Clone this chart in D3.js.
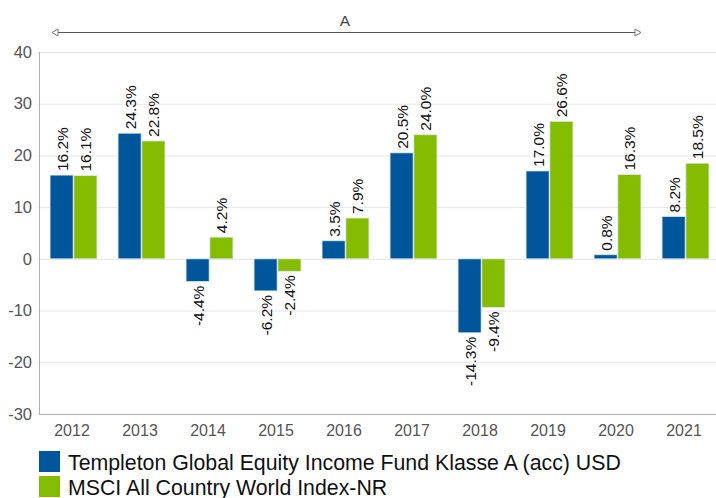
<!DOCTYPE html>
<html><head><meta charset="utf-8">
<script src="https://cdn.jsdelivr.net/npm/d3@7"></script>
<style>body{margin:0;background:#fff;} svg{display:block;font-family:Arial,"Liberation Sans",sans-serif;}</style>
</head><body><svg id="c" width="716" height="498"></svg>
<script>
const years = ["2012","2013","2014","2015","2016","2017","2018","2019","2020","2021"];
const fund = [16.2,24.3,-4.4,-6.2,3.5,20.5,-14.3,17.0,0.8,8.2];
const index = [16.1,22.8,4.2,-2.4,7.9,24.0,-9.4,26.6,16.3,18.5];
const yTicks = [-30,-20,-10,0,10,20,30,40];
const seriesNames = ["Templeton Global Equity Income Fund Klasse A (acc) USD","MSCI All Country World Index-NR"];
const colors = ["#00569a","#84bc00"];

(function(){
const svg = d3.select("#c");
const pL = 39.5, pR = 719.5, pT = 52, pB = 414;
const x = d3.scaleBand().domain(years).range([pL,pR]).paddingInner(0.31).paddingOuter(0.155);
const xs = d3.scaleBand().domain([0,1]).range([0,x.bandwidth()]).paddingInner(0.03);
const y = d3.scaleLinear().domain([-30,40]).range([pB,pT]);

svg.append("g").selectAll("line").data(yTicks).join("line")
  .attr("x1",38).attr("x2",716).attr("y1",d=>y(d)+0.5).attr("y2",d=>y(d)+0.5)
  .attr("stroke","#e6e6e6").attr("stroke-width",1);
svg.append("line").attr("x1",39.5).attr("x2",39.5).attr("y1",pT).attr("y2",pB).attr("stroke","#b0b0b0");
svg.append("line").attr("x1",39).attr("x2",716).attr("y1",pB+0.5).attr("y2",pB+0.5).attr("stroke","#b0b0b0");

svg.append("g").selectAll("text").data(yTicks).join("text")
  .attr("x",32).attr("y",d=>y(d)).attr("dy","0.35em").attr("text-anchor","end")
  .attr("font-size",16.5).attr("fill","#555").text(d=>d);
svg.append("g").selectAll("text").data(years).join("text")
  .attr("x",d=>x(d)+x.bandwidth()/2-1.5).attr("y",436).attr("text-anchor","middle")
  .attr("font-size",16).attr("fill","#555").text(d=>d);

const data = [];
years.forEach((yr,i)=>{ data.push({yr,s:0,v:fund[i]}); data.push({yr,s:1,v:index[i]}); });

svg.append("g").selectAll("rect").data(data).join("rect")
  .attr("x",d=>x(d.yr)+xs(d.s)).attr("width",xs.bandwidth())
  .attr("y",d=>y(Math.max(0,d.v))).attr("height",d=>Math.abs(y(d.v)-y(0)))
  .attr("fill",d=>colors[d.s]).attr("stroke","#dfe9f0").attr("stroke-width",0.8);

svg.append("g").selectAll("text").data(data).join("text")
  .attr("transform",d=>{
    const cx = x(d.yr)+xs(d.s)+xs.bandwidth()/2 + 6;
    const cy = d.v>=0 ? y(d.v)-4 : y(d.v)+4;
    return `translate(${cx},${cy}) rotate(-90)`;
  })
  .attr("text-anchor",d=>d.v>=0?"start":"end")
  .attr("font-size",15.5).attr("fill","#111")
  .text(d=>d.v.toFixed(1)+"%");

const ax1 = 52, ax2 = 641, ay = 32.5;
svg.append("line").attr("x1",ax1+5).attr("x2",ax2-5).attr("y1",ay).attr("y2",ay).attr("stroke","#555");
svg.append("path").attr("d",`M${ax1},${ay} L${ax1+6},${ay-3.5} L${ax1+6},${ay+3.5} Z`).attr("fill","#fff").attr("stroke","#777");
svg.append("path").attr("d",`M${ax2},${ay} L${ax2-6},${ay-3.5} L${ax2-6},${ay+3.5} Z`).attr("fill","#fff").attr("stroke","#777");
svg.append("text").attr("x",345).attr("y",26).attr("text-anchor","middle").attr("font-size",15.5).attr("fill","#444").text("A");

const lg = svg.append("g").selectAll("g").data(seriesNames).join("g")
  .attr("transform",(d,i)=>`translate(39,${451+i*25})`);
lg.append("rect").attr("width",21).attr("height",21).attr("fill",(d,i)=>colors[i]);
lg.append("text").attr("x",29).attr("y",18.5).attr("font-size",21.3).attr("fill","#111").text(d=>d);
})();
</script></body></html>
